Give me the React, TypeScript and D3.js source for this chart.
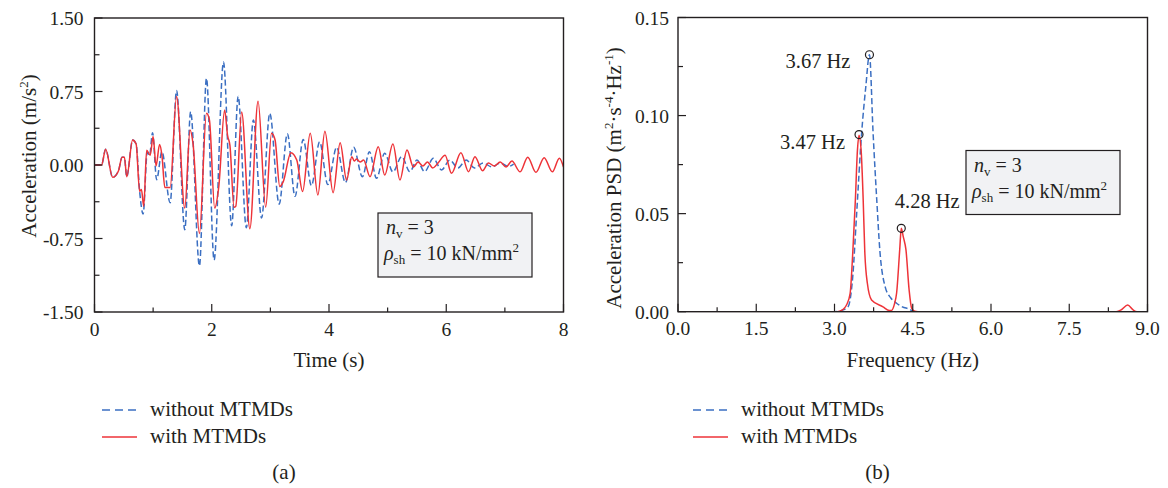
import React from "react";
import * as d3 from "d3";

// ---------- DATA ----------
// (a) acceleration time history: [time s, acceleration m/s^2]
const withoutMTMDs: [number, number][] = [
  [0, 0], [0.12, 0], [0.19, 0.16], [0.31, -0.126], [0.41, -0.058], [0.47, 0.08], [0.51, 0.078],
  [0.55, -0.12], [0.65, 0.255], [0.71, 0.214], [0.77, -0.27], [0.83, -0.5], [0.9, 0.13],
  [0.94, 0.1], [0.99, 0.33], [1.06, -0.15], [1.15, 0.136], [1.29, -0.385], [1.4, 0.76],
  [1.54, -0.66], [1.64, 0.544], [1.79, -1.03], [1.91, 0.885], [2.04, -0.97], [2.2, 1.05],
  [2.34, -0.62], [2.45, 0.7], [2.59, -0.64], [2.71, 0.46], [2.85, -0.54], [2.99, 0.527],
  [3.15, -0.4], [3.29, 0.32], [3.42, -0.32], [3.56, 0.26], [3.7, -0.21], [3.84, 0.235],
  [3.98, -0.2], [4.13, 0.18], [4.28, -0.18], [4.42, 0.18], [4.57, -0.12], [4.69, 0.136],
  [4.81, -0.136], [4.95, 0.12], [5.09, -0.07], [5.24, 0.085], [5.38, -0.068], [5.5, 0.05],
  [5.63, -0.068], [5.78, 0.068], [5.92, -0.05], [6.06, 0.05], [6.2, -0.03], [6.34, 0.05],
  [6.48, -0.03], [6.63, 0.02], [6.78, -0.02], [6.92, 0.02], [7.06, -0.015], [7.15, 0.01],
];

const withMTMDs: [number, number][] = [
  [0, 0], [0.12, 0], [0.19, 0.16], [0.31, -0.126], [0.41, -0.058], [0.47, 0.08], [0.51, 0.078],
  [0.55, -0.12], [0.65, 0.255], [0.71, 0.214], [0.77, -0.27], [0.8, -0.25], [0.84, -0.42],
  [0.89, 0.15], [0.95, 0.1], [1.0, 0.29], [1.05, -0.01], [1.11, 0.21], [1.15, 0.1],
  [1.2, -0.23], [1.29, -0.23], [1.4, 0.7], [1.54, -0.44], [1.63, 0.357], [1.68, 0.22],
  [1.79, -0.7], [1.91, 0.527], [1.96, 0.46], [2.05, -0.44], [2.12, -0.22], [2.22, 0.56],
  [2.27, 0.3], [2.31, 0.2], [2.38, -0.43], [2.41, -0.42], [2.51, 0.54], [2.65, -0.65],
  [2.79, 0.65], [2.92, -0.43], [3.02, 0.323], [3.08, 0.255], [3.16, -0.22], [3.22, -0.17],
  [3.35, 0.126], [3.45, 0.05], [3.55, -0.27], [3.68, 0.323], [3.81, -0.306], [3.93, 0.345],
  [4.07, -0.282], [4.19, 0.228], [4.3, -0.153], [4.39, 0.085], [4.43, 0.04], [4.47, 0.06],
  [4.53, 0.03], [4.59, 0.05], [4.7, -0.119], [4.84, 0.187], [4.95, -0.102], [5.09, 0.214],
  [5.21, -0.153], [5.33, 0.153], [5.44, -0.02], [5.52, 0.03], [5.6, -0.01], [5.68, 0.03],
  [5.77, -0.03], [5.86, 0.02], [5.98, 0.1], [6.09, -0.085], [6.25, 0.126], [6.38, -0.068],
  [6.49, 0.085], [6.62, -0.058], [6.72, 0.02], [6.82, -0.01], [6.92, 0.03], [7.02, -0.02],
  [7.12, 0.04], [7.26, -0.07], [7.39, 0.08], [7.53, -0.075], [7.67, 0.075], [7.81, -0.07],
  [7.93, 0.07], [8.0, -0.02],
];

// (b) acceleration PSD: [frequency Hz, PSD]
const psdWithout: [number, number][] = [
  [0, 0], [3.0, 0], [3.15, 0.0008], [3.26, 0.0025], [3.35, 0.018], [3.42, 0.048],
  [3.52, 0.091], [3.6, 0.1147], [3.67, 0.131], [3.74, 0.091], [3.81, 0.057], [3.87, 0.031],
  [3.97, 0.0128], [4.08, 0.007], [4.19, 0.0043], [4.3, 0.0025], [4.44, 0.0012], [4.52, 0],
  [9.0, 0],
];

const psdWith: [number, number][] = [
  [0, 0], [3.0, 0], [3.1, 0.0003], [3.18, 0.0015], [3.23, 0.0034], [3.3, 0.0094],
  [3.35, 0.03], [3.4, 0.057], [3.44, 0.0825], [3.47, 0.09], [3.51, 0.0825], [3.55, 0.057],
  [3.58, 0.031], [3.63, 0.0145], [3.71, 0.006], [3.93, 0.0025], [4.05, 0.0006], [4.09, 0.0006],
  [4.15, 0.004], [4.19, 0.0094], [4.25, 0.0315], [4.28, 0.0425], [4.32, 0.038], [4.37, 0.0315],
  [4.43, 0.0112], [4.48, 0.0017], [4.54, 0.0002], [4.6, 0], [8.4, 0], [8.5, 0.001],
  [8.62, 0.0034], [8.72, 0.001], [8.8, 0], [9.0, 0],
];

const peaks: { f: number; v: number; label: string }[] = [
  { f: 3.67, v: 0.131, label: "3.67 Hz" },
  { f: 3.47, v: 0.0903, label: "3.47 Hz" },
  { f: 4.28, v: 0.0425, label: "4.28 Hz" },
];

const leftYTicks = [-1.5, -0.75, 0, 0.75, 1.5];
const leftYMinor = [-1.125, -0.375, 0.375, 1.125];
const leftXTicks = [0, 2, 4, 6, 8];
const leftXMinor = [1, 3, 5, 7];
const rightYTicks = [0, 0.05, 0.1, 0.15];
const rightYMinor = [0.025, 0.075, 0.125];
const rightXTicks = [0, 1.5, 3, 4.5, 6, 7.5, 9];
const rightXMinor = [0.75, 2.25, 3.75, 5.25, 6.75, 8.25];

const legendLabels = ["without MTMDs", "with MTMDs"];

// ---------- STYLE ----------
const FONT = "'Liberation Serif', 'Times New Roman', serif";
const BLUE = "#3b6fc2";
const RED = "#ee3338";
const INK = "#231f20";

export default function App() {
  const xL = d3.scaleLinear().domain([0, 8]).range([94.5, 563.5]);
  const yL = d3.scaleLinear().domain([-1.5, 1.5]).range([312, 18]);
  const xR = d3.scaleLinear().domain([0, 9]).range([678, 1147.5]);
  const yR = d3.scaleLinear().domain([0, 0.15]).range([311.7, 17.5]);

  const lineL = d3
    .line<[number, number]>()
    .x((d) => xL(d[0]))
    .y((d) => yL(d[1]))
    .curve(d3.curveMonotoneX);
  const lineR = d3
    .line<[number, number]>()
    .x((d) => xR(d[0]))
    .y((d) => yR(d[1]))
    .curve(d3.curveMonotoneX);

  const tickFs = 19.5;
  const labFs = 21;

  const frame = (x: any, y: any) => {
    const [x0, x1] = x.range();
    const [y0, y1] = y.range();
    return (
      <rect x={x0} y={y1} width={x1 - x0} height={y0 - y1} fill="none" stroke={INK} strokeWidth={1.4} />
    );
  };

  const axisTicks = (
    x: any,
    y: any,
    xt: number[],
    xm: number[],
    yt: number[],
    ym: number[],
    xfmt: (v: number) => string,
    yfmt: (v: number) => string,
    gap: number
  ) => {
    const [x0] = x.range();
    const [y0] = y.range();
    return (
      <g>
        {xt.map((v) => (
          <g key={"xt" + v}>
            <line x1={x(v)} x2={x(v)} y1={y0} y2={y0 - 8} stroke={INK} strokeWidth={1.2} />
            <text x={x(v)} y={y0 + 23.5} textAnchor="middle" fontSize={tickFs} fill={INK}>
              {xfmt(v)}
            </text>
          </g>
        ))}
        {xm.map((v) => (
          <line key={"xm" + v} x1={x(v)} x2={x(v)} y1={y0} y2={y0 - 4.5} stroke={INK} strokeWidth={1.2} />
        ))}
        {yt.map((v) => (
          <g key={"yt" + v}>
            <line x1={x0} x2={x0 + 8} y1={y(v)} y2={y(v)} stroke={INK} strokeWidth={1.2} />
            <text x={x0 - gap} y={y(v) + 7} textAnchor="end" fontSize={tickFs} fill={INK}>
              {yfmt(v)}
            </text>
          </g>
        ))}
        {ym.map((v) => (
          <line key={"ym" + v} x1={x0} x2={x0 + 5} y1={y(v)} y2={y(v)} stroke={INK} strokeWidth={1.2} />
        ))}
      </g>
    );
  };

  const legend = (lx: number) => (
    <g fontSize={labFs} fill={INK}>
      <line x1={lx} x2={lx + 35} y1={410} y2={410} stroke={BLUE} strokeWidth={1.5} strokeDasharray="8,5" />
      <text x={lx + 48} y={416}>{legendLabels[0]}</text>
      <line x1={lx} x2={lx + 35} y1={437} y2={437} stroke={RED} strokeWidth={1.5} />
      <text x={lx + 48} y={443}>{legendLabels[1]}</text>
    </g>
  );

  const infoBox = (bx: number, by: number) => (
    <g>
      <rect x={bx} y={by} width={154} height={64} fill="#f1f2f4" stroke={INK} strokeWidth={1.2} />
      <text x={bx + 8} y={by + 21} fontSize={20} fill={INK}>
        <tspan fontStyle="italic">n</tspan>
        <tspan fontSize={13} dy={4}>v</tspan>
        <tspan dy={-4}> = 3</tspan>
      </text>
      <text x={bx + 6} y={by + 47} fontSize={20} fill={INK}>
        <tspan fontStyle="italic">ρ</tspan>
        <tspan fontSize={13} dy={4}>sh</tspan>
        <tspan dy={-4}> = 10 kN/mm</tspan>
        <tspan fontSize={13} dy={-8}>2</tspan>
      </text>
    </g>
  );

  return (
    <svg
      width={1168}
      height={488}
      style={{ position: "absolute", left: 0, top: 0, background: "#fff" }}
      fontFamily={FONT}
    >
      <defs>
        <clipPath id="clipL">
          <rect x={94.5} y={18} width={469} height={294} />
        </clipPath>
        <clipPath id="clipR">
          <rect x={678} y={10} width={469.5} height={301.7} />
        </clipPath>
      </defs>

      {/* ---------- (a) ---------- */}
      <g clipPath="url(#clipL)">
        <path d={lineL(withoutMTMDs) || ""} fill="none" stroke={BLUE} strokeWidth={1.5} strokeDasharray="6,3" />
        <path d={lineL(withMTMDs) || ""} fill="none" stroke={RED} strokeWidth={1.5} />
      </g>
      {frame(xL, yL)}
      {axisTicks(xL, yL, leftXTicks, leftXMinor, leftYTicks, leftYMinor, (v) => String(v), (v) => d3.format(".2f")(v).replace("−", "-"), 11)}
      {infoBox(378, 213)}
      <text x={xL(4)} y={367} textAnchor="middle" fontSize={labFs} fill={INK}>
        Time (s)
      </text>
      <text transform="translate(36,156) rotate(-90)" textAnchor="middle" fontSize={labFs} fill={INK}>
        Acceleration (m/s<tspan fontSize={13} dy={-8}>2</tspan>
        <tspan dy={8}>)</tspan>
      </text>
      {legend(102)}
      <text x={284} y={479} textAnchor="middle" fontSize={labFs} fill={INK}>
        (a)
      </text>

      {/* ---------- (b) ---------- */}
      <g clipPath="url(#clipR)">
        <path d={lineR(psdWithout) || ""} fill="none" stroke={BLUE} strokeWidth={1.5} strokeDasharray="6,3" />
        <path d={lineR(psdWith) || ""} fill="none" stroke={RED} strokeWidth={1.5} />
      </g>
      {frame(xR, yR)}
      {axisTicks(xR, yR, rightXTicks, rightXMinor, rightYTicks, rightYMinor, (v) => d3.format(".1f")(v), (v) => d3.format(".2f")(v), 9)}
      {peaks.map((p, i) => {
        const cx = xR(p.f);
        const cy = yR(p.v);
        const pos =
          i === 0
            ? { x: cx - 19, y: cy + 13, a: "end" }
            : i === 1
            ? { x: cx - 14, y: cy + 14, a: "end" }
            : { x: cx - 6.5, y: cy - 20, a: "start" };
        return (
          <g key={p.label}>
            <circle cx={cx} cy={cy} r={4} fill="none" stroke={INK} strokeWidth={1.2} />
            <text x={pos.x} y={pos.y} textAnchor={pos.a as any} fontSize={20.5} fill={INK}>
              {p.label}
            </text>
          </g>
        );
      })}
      {infoBox(966, 150.5)}
      <text x={xR(4.5)} y={367} textAnchor="middle" fontSize={labFs} fill={INK}>
        Frequency (Hz)
      </text>
      <text transform="translate(621,178) rotate(-90)" textAnchor="middle" fontSize={labFs} fill={INK}>
        Acceleration PSD (m<tspan fontSize={13} dy={-8}>2</tspan>
        <tspan dy={8}>·s</tspan>
        <tspan fontSize={13} dy={-8}>-4</tspan>
        <tspan dy={8}>·Hz</tspan>
        <tspan fontSize={13} dy={-8}>-1</tspan>
        <tspan dy={8}>)</tspan>
      </text>
      {legend(693)}
      <text x={877.5} y={479} textAnchor="middle" fontSize={labFs} fill={INK}>
        (b)
      </text>
    </svg>
  );
}
